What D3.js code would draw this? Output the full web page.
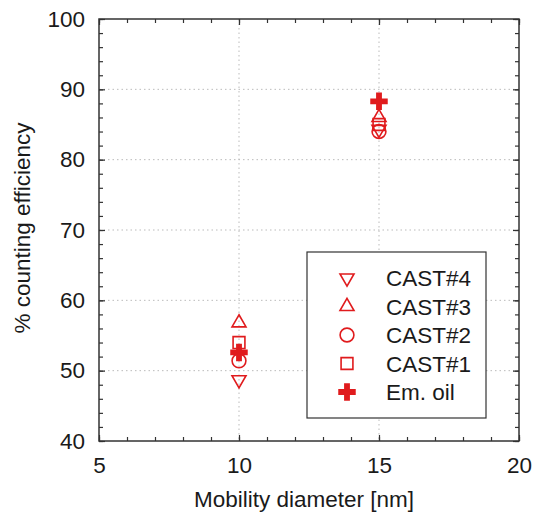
<!DOCTYPE html>
<html>
<head>
<meta charset="utf-8">
<script src="https://cdn.jsdelivr.net/npm/d3@7"></script>
<style>
  body{margin:0;background:#fff;}
  svg{font-family:"Liberation Sans",Arial,sans-serif;}
</style>
</head>
<body>
<svg id="chart" width="535" height="520"></svg>
<script>
// data
var diameters=[10, 15];
var cast4=[48.7, 84.3];
var cast3=[56.8, 86.0];
var cast2=[51.4, 84.0];
var cast1=[54.0, 85.0];
var emOil=[52.6, 88.3];
var seriesNames=["CAST#4","CAST#3","CAST#2","CAST#1","Em. oil"];
var xTicks=[5,10,15,20];
var yTicks=[40,50,60,70,80,90,100];

var red="#e01b1d";
var fs=22.5;
var margin={top:19, right:16, bottom:79, left:99};
var W=535, H=520;
var w=W-margin.left-margin.right, h=H-margin.top-margin.bottom;

var svg=d3.select("#chart");
var g=svg.append("g").attr("transform","translate("+margin.left+","+margin.top+")");

var x=d3.scaleLinear().domain([5,20]).range([0,w]);
var y=d3.scaleLinear().domain([40,100]).range([h,0]);

// dotted grid at major ticks
g.append("g").selectAll("line").data(xTicks.slice(1,-1)).enter().append("line")
  .attr("x1",function(d){return x(d);}).attr("x2",function(d){return x(d);})
  .attr("y1",0).attr("y2",h)
  .attr("stroke","#bbb").attr("stroke-width",1).attr("stroke-dasharray","1.5,3");
g.append("g").selectAll("line").data(yTicks.slice(1,-1)).enter().append("line")
  .attr("y1",function(d){return y(d);}).attr("y2",function(d){return y(d);})
  .attr("x1",0).attr("x2",w)
  .attr("stroke","#bbb").attr("stroke-width",1).attr("stroke-dasharray","1.5,3");

// axes with inward ticks, all four sides
var xMinor=d3.range(5,20.01,1), yMinor=d3.range(40,100.01,2);
function tickAxis(axisFn, scale, vals, len, labels){
  return axisFn(scale).tickValues(vals).tickSizeInner(-len).tickSizeOuter(0)
    .tickFormat(labels?d3.format("d"):"");
}
var axB=g.append("g").attr("transform","translate(0,"+h+")");
axB.call(tickAxis(d3.axisBottom,x,xMinor,4,false));
axB.append("g").call(tickAxis(d3.axisBottom,x,xTicks,6,true).tickPadding(16));
var axT=g.append("g");
axT.call(tickAxis(d3.axisTop,x,xMinor,4,false));
axT.append("g").call(tickAxis(d3.axisTop,x,xTicks,6,false));
var axL=g.append("g");
axL.call(tickAxis(d3.axisLeft,y,yMinor,4,false));
axL.append("g").call(tickAxis(d3.axisLeft,y,yTicks,6,true).tickPadding(14));
var axR=g.append("g").attr("transform","translate("+w+",0)");
axR.call(tickAxis(d3.axisRight,y,yMinor,4,false));
axR.append("g").call(tickAxis(d3.axisRight,y,yTicks,6,false));

g.selectAll(".domain").remove();
g.selectAll(".tick line").attr("stroke","#333").attr("stroke-width",1.2);
g.selectAll(".tick text").attr("font-size",fs).attr("fill","#1a1a1a")
  .attr("font-family","'Liberation Sans',Arial,sans-serif");

g.append("rect").attr("width",w).attr("height",h)
  .attr("fill","none").attr("stroke","#333").attr("stroke-width",1.5);

// axis titles
svg.append("text").attr("x",margin.left+w/2-5).attr("y",507)
  .attr("text-anchor","middle").attr("font-size",fs).attr("fill","#1a1a1a")
  .text("Mobility diameter [nm]");
svg.append("text").attr("transform","translate(30,"+(margin.top+h/2-2)+") rotate(-90)")
  .attr("text-anchor","middle").attr("font-size",fs).attr("fill","#1a1a1a")
  .text("% counting efficiency");

// marker shapes
var shapes=[
  {sym:d3.symbolTriangle, size:85, rot:180, fill:false},
  {sym:d3.symbolTriangle, size:85, rot:0, fill:false},
  {sym:d3.symbolCircle, size:150, rot:0, fill:false},
  {sym:d3.symbolSquare, size:140, rot:0, fill:false},
  {sym:d3.symbolCross, size:170, rot:0, fill:true}
];
var allSeries=[cast4, cast3, cast2, cast1, emOil];

function drawMarker(sel, s, cx, cy){
  sel.append("path")
    .attr("d",d3.symbol().type(s.sym).size(s.size)())
    .attr("transform","translate("+cx+","+cy+") rotate("+s.rot+")")
    .attr("fill",s.fill?red:"none")
    .attr("stroke",red).attr("stroke-width",s.fill?0:1.6);
}

var pts=g.append("g");
allSeries.forEach(function(vals,i){
  vals.forEach(function(v,j){
    drawMarker(pts, shapes[i], x(diameters[j]), y(v));
  });
});

// legend
var lg=svg.append("g");
lg.append("rect").attr("x",307).attr("y",252).attr("width",179).attr("height",166)
  .attr("fill","#fff").attr("stroke","#333").attr("stroke-width",1.2);
var rowY=d3.scalePoint().domain(seriesNames).range([278,392]);
seriesNames.forEach(function(name,i){
  drawMarker(lg, shapes[i], 347, rowY(name));
  lg.append("text").attr("x",386).attr("y",rowY(name)).attr("dy","0.36em")
    .attr("font-size",fs).attr("fill","#1a1a1a").text(name);
});
</script>
</body>
</html>
